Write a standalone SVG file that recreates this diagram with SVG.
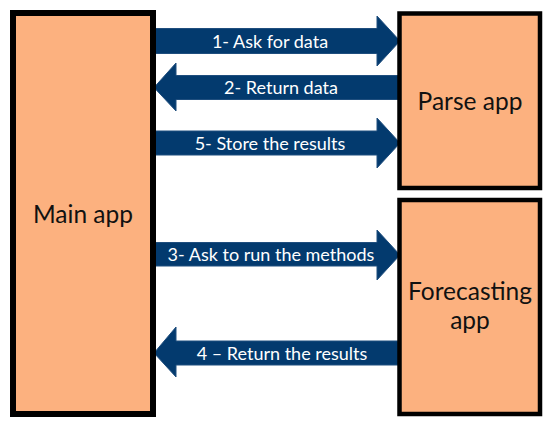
<svg xmlns="http://www.w3.org/2000/svg" width="550" height="428" viewBox="0 0 550 428">
<style>
.box{fill:#FCB17F;stroke:#000;}
.arrow{fill:#033A6E;stroke:#1F4E7E;stroke-width:1;}
.lbl{font-family:Lato,"Liberation Sans",sans-serif;font-size:18px;fill:#fff;text-anchor:middle;}
.node{font-family:Lato,"Liberation Sans",sans-serif;font-size:24.5px;fill:#111;text-anchor:middle;}
</style>
<rect width="550" height="428" fill="#fff"/>
<g id="connectors">
<g id="arrow1"><path class="arrow" d="M153,28.5 H377 V16 L400,41 L377,66 V53.5 H153 Z"/><text class="lbl" x="270" y="47.5">1- Ask for data</text></g>
<g id="arrow2"><path class="arrow" d="M400,75.5 H176 V63 L154,87.5 L176,111 V99.5 H400 Z"/><text class="lbl" x="281" y="93.5">2- Return data</text></g>
<g id="arrow5"><path class="arrow" d="M153,131 H377 V118 L400,143 L377,168 V155 H153 Z"/><text class="lbl" x="270" y="149.5">5- Store the results</text></g>
<g id="arrow3"><path class="arrow" d="M153,242.5 H377 V230 L400,255 L377,280 V266 H153 Z"/><text class="lbl" x="271" y="261">3- Ask to run the methods</text></g>
<g id="arrow4"><path class="arrow" d="M400,341 H176 V327 L154,353 L176,377 V365 H400 Z"/><text class="lbl" x="282" y="359.5">4 – Return the results</text></g>
</g>
<g id="main-app"><rect class="box" x="13" y="13" width="140" height="401" stroke-width="6"/><text class="node" x="83" y="222.5">Main app</text></g>
<g id="parse-app"><rect class="box" x="399.5" y="13.5" width="140.5" height="174.5" stroke-width="4.5"/><text class="node" x="470" y="109.5">Parse app</text></g>
<g id="forecasting-app"><rect class="box" x="399.5" y="200" width="140.5" height="214" stroke-width="4.5"/><text class="node" x="470" y="300">Forecasting</text><text class="node" x="470" y="329">app</text></g>
</svg>
